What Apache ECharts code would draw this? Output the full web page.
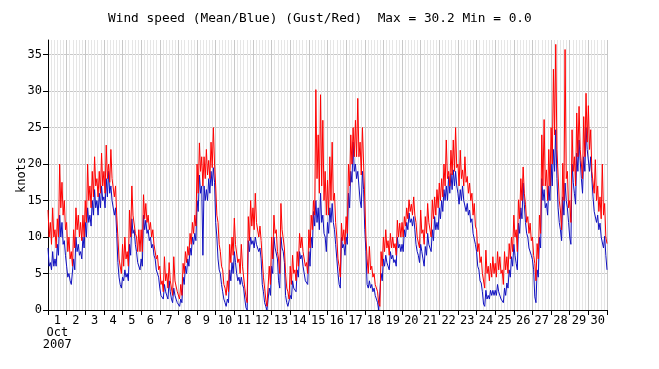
<!DOCTYPE html>
<html>
<head>
<meta charset="utf-8">
<script src="https://cdn.jsdelivr.net/npm/echarts@6/dist/echarts.min.js"></script>
<style>html,body{margin:0;padding:0;background:#fff}#c{width:659px;height:369px}</style>
</head>
<body>
<div id="c"></div>
<script>
// Day labels (October 2007)
const days = ['1','2','3','4','5','6','7','8','9','10','11','12','13','14','15','16','17','18','19','20','21','22','23','24','25','26','27','28','29','30'];
const yTicks = [0,5,10,15,20,25,30,35];
const stepHours = 3; // one step every 3 hours from 1 Oct 00:00; each step has a peak and a trough
// Gust (red) peaks per 3-hour step, knots
const gust = [
 13.7,12,14,11,12.5,20,17.5,15,
 12,10,8,11,14,13,12,13,
 15,20,17,19,21,18,19,21.5,
 19,22.6,20,22,18,17,10,7,
 9,10,8,13.7,17,13,10,11,
 11,15.8,14.6,13,12,11,9,7.5,
 6,4,7.3,5,6.5,3,7.3,4,
 2.5,3.5,6.4,8,8.7,10.5,12,13,
 20,22.9,21,21,22,20.5,23,25,
 17,12,8,5.5,3,4,9,10,
 12.6,9,7,9,6,1.8,12.8,15,
 14,16,12,11.5,7,3,0.5,6,
 10,13,11,7,14.6,11,5,2.5,
 6,7.5,5.5,8,10.5,10,8,6.5,
 11,13,15,30.2,24,29.5,26,19,
 17.8,21,23,16,10,6,11.9,11,
 12.8,20,24,25,26,29,23,25,
 15,7,8.7,6,5,3.7,0.9,8,
 10,11,9.5,10.5,10,9.1,12.3,11.9,
 12,12.8,14,15.1,14.5,15.5,12,10,
 13.7,11,12.8,14.6,12,15.1,15.5,16.5,
 17.4,18,20,23.3,19,21.9,23.3,25,
 20,21.9,19.2,21,18.3,17.4,16,14.6,
 11,9.1,7.3,5,8.2,6,6.4,7.3,
 6.4,8,7.3,5.5,8,7.3,9.1,10,
 13,11,15.1,18,19.6,14.5,12.8,11.9,
 10,6.4,9.1,13,24,26.1,19.2,22,
 25,33,36.4,22,13.7,20.1,35.7,19,
 15,24.7,21,27,27.9,22,26.5,29.7,
 28,24.7,19,20.6,17,15.5,20,14.6,
 9.1
];
// Gust (red) troughs per 3-hour step, knots
const gustLo = [
 10,9,10,8.5,10,14,13,11,
 8,7,6,8.5,11,10,9.5,10,
 12,15,14,15.5,17,15.5,16,17,
 16,18,17.5,18,15.5,13,7,5,
 6,7,6,10,13,10.5,8,8,
 8,12.5,12,11,10,9,7,5.5,
 3.5,2.5,4,3,4,2,4,2.5,
 1.5,2,5,6.5,7.5,9,10.5,11.5,
 16,19,17,18,18.5,18,19.5,20,
 13,9,6,3.5,2,2.5,6.5,7.5,
 9,6.5,5,6,3,1,9.5,11.5,
 11,12,10,9.5,4.5,1.5,0.3,3.5,
 7,10.5,8,5,11,8.5,3,1.5,
 3.5,5,4,6,8.5,8,6,5,
 8.5,11,13,18,16,17,15,13,
 13,15,15,12,7,4.5,9.5,9,
 10.5,17,20,21,21,21,18.5,20,
 10,5,5.5,4.5,3.5,2.5,0.5,6,
 8,8.5,7.5,8.5,8.5,7.5,10,10,
 10,11.5,12.5,13.5,13,13,10,8.5,
 10.5,9,10.5,12,10,12.5,13,14,
 15,15.5,17,18,17,18.5,19,19.5,
 17,18,17,17.5,16,15,13,11.5,
 8,6.5,5,3,5,4,4.5,5,
 4.5,5.5,5,3.5,5.5,5,7,8,
 10,8,12.5,15,16,12,10.5,9.5,
 7.5,4,7,10.5,17,17,15,17,
 20,24,22,15,11,15,18,14,
 12,19,17,21,22,18,21,23,
 22,19,16,15,13.5,12.5,13,10
];
// Mean (blue) peaks per 3-hour step, knots
const mean = [
 8.5,6.5,8,7,9,13,12,9.5,
 6,5,3.5,7,10,9,8,10,
 12,14,13,15,16.5,15,16,17,
 15.5,18,19,17,15,14,6.5,3.5,
 4.5,5.5,5,9,12.5,11,8,6.5,
 7,13,12.3,11,10,9,7,5.5,
 3,2,3.5,2.5,4,1.5,3,1.5,
 1,1.5,4.5,6,7,8.5,10,10.5,
 15,18.5,17,17,16.5,18,19,19.5,
 12,7,5,2.5,1,1.5,5.5,6.5,
 8,5,4.5,4.5,3,0.3,9.5,10,
 9.5,10,9,8.5,3.5,1,0,3,
 6,10,8.5,4,10,8,2,0.5,
 2,4,3,5.5,8,7.5,5,4,
 8,10,13.5,15,14,16,13,10,
 12,14,14.6,11,7,3.5,10,9,
 10,16,19,23,20,19,15,19,
 11,3.5,4,3.5,3,1.8,0,5,
 7,7.5,6.4,8,7.5,6.9,10,9,
 9,11,12,13.3,12.5,12.8,9,7.5,
 9,7,8.7,10.5,9,11,12.8,12,
 14,15,16.5,17,18.3,18.7,19.2,19,
 16,16.5,17,15,14.6,13.7,12.5,10.5,
 8,5.5,3.7,0.8,2.7,2,2.7,2.7,
 2.7,3.5,2.3,1.4,3,3.7,5.5,7.3,
 9,6.4,11.9,14,17.4,12,10,8.7,
 6.9,1.8,5.5,10,18,16.5,14.6,17,
 20,22,24.7,14,11,15.5,17.4,14,
 10,20,16,21.5,23.3,18,21,25,
 22,21,15.5,13.7,13,11.9,10,10.1,
 5.5
];
// Mean (blue) troughs per 3-hour step, knots
const meanLo = [
 6,5.5,6,6,7.5,10,9,7.5,
 4.5,4,3.5,5.5,8,7.5,7,8.5,
 10,12,11.5,13,14,13,14,15,
 14,15.5,16,15,13,10.5,4.5,3,
 4,4.5,4,7.5,10.5,9,6.5,5.5,
 6,11,10.5,9.5,8.5,7.5,5.5,4.5,
 2,1.5,2.5,1.5,2.5,1,2,1,
 0.5,1,3.5,5,6,7.5,9,9.5,
 13.5,16,7.5,15,15,16,17,17.5,
 10,5.5,3.5,1.5,0.5,1,4,5,
 6.5,4,3.5,3.5,1.5,0,8,9,
 8.5,9,8,7,2.5,0.5,0,2,
 5,8.5,7,3,8.5,6.5,1,0.3,
 1.5,3,2.5,4.5,7,6,4,3.5,
 6,8.5,11.5,12,11,12,10.5,8,
 10.5,12,12,9,5,3,8.5,7.5,
 9,14,17.5,19,18,17,14,16.5,
 8,3,3,2.5,2,1,0,4,
 6,6.5,5.5,7,6.5,6,8.5,8,
 8,10,11,12,11.5,11,8,6.5,
 8,6,7.5,9,8,9.5,11,11,
 12.5,13.5,15,15,16,16.5,17,17,
 14.5,15,15,13.5,13,12,10.5,9,
 6,4,2.5,0.5,1.5,1.5,2,2,
 2,2.5,1.5,1,2,3,4.5,6,
 7.5,5.5,10.5,12.5,14.5,10.5,8.5,7.5,
 5.5,1,4.5,8.5,15,14,13,15,
 17,19,18,12,9.5,13,15,12,
 9,17.5,14.5,19,20.5,16,19,22,
 19,18,13.5,12,11,10,8.5,7.5
];
// Peak at each step start, trough half a step later
const zig = (hi, lo) => hi.flatMap((v, i) => i < lo.length
  ? [[i * stepHours, v], [i * stepHours + stepHours / 2, lo[i]]]
  : [[i * stepHours, v]]);
const font = 'DejaVu Sans Mono';
const chart = echarts.init(document.getElementById('c'), null, {renderer: 'canvas'});
chart.setOption({
  animation: false,
  backgroundColor: '#fff',
  title: {
    text: 'Wind speed (Mean/Blue) (Gust/Red)  Max = 30.2 Min = 0.0',
    left: 108, top: 12, padding: 0,
    textStyle: {fontFamily: font, fontSize: 12.8, fontWeight: 'normal', color: '#000'}
  },
  grid: {left: 48, right: 52, top: 40, bottom: 59, containLabel: false, outerBoundsMode: 'none'},
  xAxis: [
    {
      type: 'category', data: days, boundaryGap: true, position: 'bottom',
      axisLine: {lineStyle: {color: '#000', width: 1}},
      axisTick: {show: true, length: 5, lineStyle: {color: '#000'}},
      axisLabel: {
        interval: 0, margin: 5, color: '#000', fontFamily: font, fontSize: 12, lineHeight: 12,
        formatter: (v) => v === '1' ? '1\nOct\n2007' : v
      },
      splitLine: {show: false}
    },
    {
      type: 'value', min: 0, max: 720, interval: 24, position: 'bottom',
      axisLine: {show: false}, axisTick: {show: false}, axisLabel: {show: false},
      splitLine: {show: true, lineStyle: {color: '#c8c8c8', width: 1}},
      minorTick: {show: false, splitNumber: 6},
      minorSplitLine: {show: true, lineStyle: {color: '#e6e6e6', width: 1}}
    }
  ],
  yAxis: {
    type: 'value', min: 0, max: 37, interval: 5,
    name: 'knots', nameLocation: 'middle', nameGap: 20, nameMoveOverlap: false,
    nameTextStyle: {fontFamily: font, fontSize: 12, color: '#000'},
    axisLine: {show: true, lineStyle: {color: '#000'}},
    axisTick: {show: true, length: 5, lineStyle: {color: '#000'}, customValues: yTicks},
    axisLabel: {color: '#000', fontFamily: font, fontSize: 12, margin: 6, customValues: yTicks},
    splitLine: {show: true, lineStyle: {color: '#c8c8c8', width: 1}}
  },
  series: [
    {type: 'line', xAxisIndex: 1, data: zig(mean, meanLo), symbol: 'none', z: 3,
     lineStyle: {color: '#1010c0', width: 1}},
    {type: 'line', xAxisIndex: 1, data: zig(gust, gustLo), symbol: 'none', z: 4,
     lineStyle: {color: '#ff0000', width: 1}}
  ]
});
</script>
</body>
</html>
